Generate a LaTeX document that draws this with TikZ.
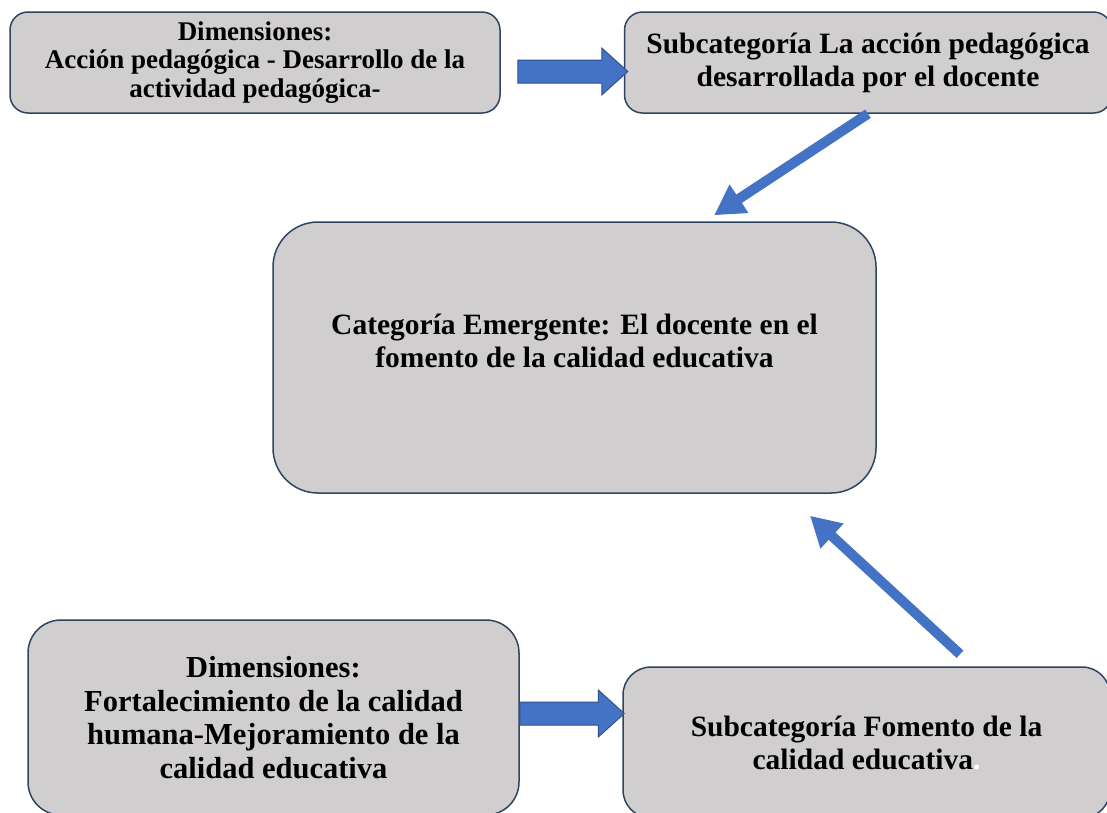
\documentclass[tikz,border=0pt]{standalone}
\usepackage{fontspec}
\setmainfont{Liberation Serif}
\usepackage{tikz}
\usetikzlibrary{arrows.meta, positioning, calc}
\definecolor{BoxGray}{HTML}{D0CECE}
\definecolor{EdgeNavy}{HTML}{2F4460}
\definecolor{ArrowBlue}{HTML}{4472C4}
\definecolor{ArrowEdge}{HTML}{2F528F}
\newcommand{\blockarrow}[2]{%
  \draw[ArrowEdge,fill=ArrowBlue,line width=1pt,line join=miter]
    ($(#1)+(0,-11.5)$) -- ($(#2)+(-26,-11.5)$) -- ($(#2)+(-26,-23.5)$) -- (#2)
    -- ($(#2)+(-26,23.5)$) -- ($(#2)+(-26,11.5)$) -- ($(#1)+(0,11.5)$) -- cycle;}

\begin{document}
\begin{tikzpicture}[x=1pt,y=-1pt,
    box/.style={draw=EdgeNavy,fill=BoxGray,line width=1.5pt,align=center,text=black,
                font=\fontsize{29.5}{33}\selectfont\bfseries},
    smallbox/.style={box,font=\fontsize{27}{28.5}\selectfont\bfseries},
    linkarrow/.style={ArrowBlue,line width=10pt,-{Triangle[length=30pt,width=32pt]}}]
    \clip (0,0) rectangle (1107,812);
    \useasboundingbox (0,0) rectangle (1107,812);

    % Top row
    \node[smallbox,minimum width=490pt,minimum height=101pt,rounded corners=18pt] (dimA) at (255,62.5) {
        Dimensiones:\\
        Acción pedagógica - Desarrollo de la\\
        actividad pedagógica-
    };
    \node[box,minimum width=487pt,minimum height=101pt,rounded corners=18pt,right=123pt of dimA] (subB) {
        Subcategoría La acción pedagógica\\
        desarrollada por el docente
    };

    % Central category
    \node[box,minimum width=603pt,minimum height=271pt,rounded corners=45pt] (catC) at (574.5,357.5) {
        Categoría Emergente: El docente en el\\
        fomento de la calidad educativa\\
        \mbox{}
    };

    % Bottom row
    \node[box,minimum width=491pt,minimum height=195pt,rounded corners=33pt,
          font=\fontsize{30.5}{33.5}\selectfont\bfseries] (dimD) at (273.5,717.5) {
        Dimensiones:\\
        Fortalecimiento de la calidad\\
        humana-Mejoramiento de la\\
        calidad educativa
    };
    \node[box,minimum width=487pt,minimum height=151pt,rounded corners=28pt] (subE) at (866.5,742.5) {
        Subcategoría Fomento de la\\
        calidad educativa\textcolor{white}{.}
    };

    % Block arrows
    \coordinate (tailA) at ($(dimA.east)+(17,9)$);
    \coordinate (tipB) at ($(subB.west)+(4,9)$);
    \blockarrow{tailA}{tipB}
    \coordinate (tailD) at ($(dimD.east)+(0,-4)$);
    \coordinate (tipE) at ($(subE.west)+(2,-29)$);
    \blockarrow{tailD}{tipE}

    % Links to the category
    \coordinate (tipC1) at ($(catC.north)+(139.5,-6)$);
    \draw[linkarrow] (subB.south) -- (tipC1);
    \coordinate (tailE) at ($(subE.north)+(93.5,-12)$);
    \coordinate (tipC2) at ($(catC.south)+(235.5,22)$);
    \draw[linkarrow] (tailE) -- (tipC2);
\end{tikzpicture}
\end{document}
